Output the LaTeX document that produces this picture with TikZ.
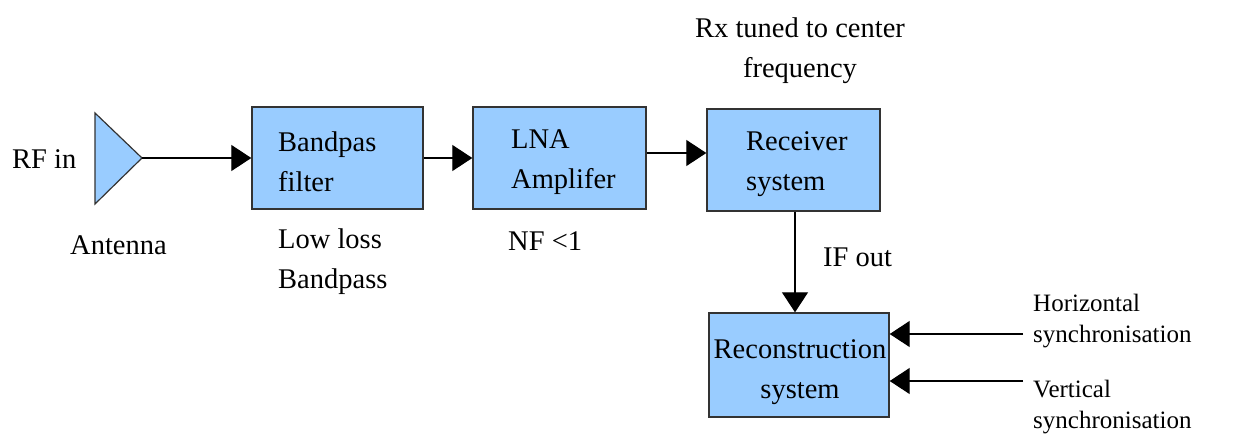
\documentclass[tikz,border=0pt]{standalone}
\usepackage{fontspec}
\setmainfont{Liberation Serif}
\usetikzlibrary{arrows.meta}
\definecolor{boxfill}{HTML}{99CCFF}
\definecolor{edge}{HTML}{333333}
\tikzset{
  block/.style={draw=edge, fill=boxfill, line width=1.4pt, inner sep=0pt},
  arr/.style={line width=1.3pt, -{Triangle[length=20pt,width=26pt]}},
  txt/.style={inner sep=0pt, anchor=base west, align=left,
              font=\fontsize{28.5}{39.5}\selectfont},
  txtc/.style={inner sep=0pt, anchor=base, align=center,
              font=\fontsize{28.5}{39.5}\selectfont},
  small/.style={inner sep=0pt, anchor=base west, align=left,
              font=\fontsize{25}{30.5}\selectfont},
}
\begin{document}
\begin{tikzpicture}[x=1pt, y=-1pt]
\useasboundingbox (0,0) rectangle (1244,434);

% antenna symbol
\draw[draw=edge, fill=boxfill, line width=1.2pt] (95,113) -- (142,158) -- (95,204) -- cycle;
\coordinate (ant) at (142,158);

% processing blocks
\node[block, minimum width=171pt, minimum height=102pt] (bp) at (337.5,158) {};
\node[block, minimum width=173pt, minimum height=102pt] (lna) at (559.5,158) {};
\node[block, minimum width=173pt, minimum height=102pt] (rx) at (793.5,160) {};
\node[block, minimum width=180pt, minimum height=104pt] (rec) at (799,365) {};

% block texts (anchored at the baseline of the last line)
\node[txt] (bpt) at (278,191) {Bandpas\\filter};
\node[txt] (lnat) at (511,188) {LNA\\Amplifer};
\node[txt] (rxt) at (746,190) {Receiver\\system};
\node[txtc] (rect) at (800,398) {Reconstruction\\system};

% annotations
\node[txt] (rfin) at (12,168) {RF in};
\node[txt] (antl) at (70,254) {Antenna};
\node[txt] (bpl) at (278,288) {Low loss\\Bandpass};
\node[txt] (nf) at (508,250) {NF <1};
\node[txtc] (tune) at (800,77) {Rx tuned to center\\frequency};
\node[txt] (ifo) at (823,266) {IF out};
\node[small] (hsl) at (1033,342) {Horizontal\\synchronisation};
\node[small] (vsl) at (1033,428) {Vertical\\synchronisation};

% signal path
\draw[arr] (ant) -- (bp.west);
\draw[arr] (bp.east) -- (lna.west);
\draw[arr] ([yshift=5pt]lna.east) -- ([yshift=5pt]lna.east -| rx.west);
\draw[arr] ([xshift=1.5pt]rx.south) -- ([xshift=1.5pt]rx.south |- rec.north);

% synchronisation inputs
\coordinate (hs) at (1023,334);
\coordinate (vs) at (1023,381);
\draw[arr] (hs) -- (hs -| rec.east);
\draw[arr] (vs) -- (vs -| rec.east);
\end{tikzpicture}
\end{document}
